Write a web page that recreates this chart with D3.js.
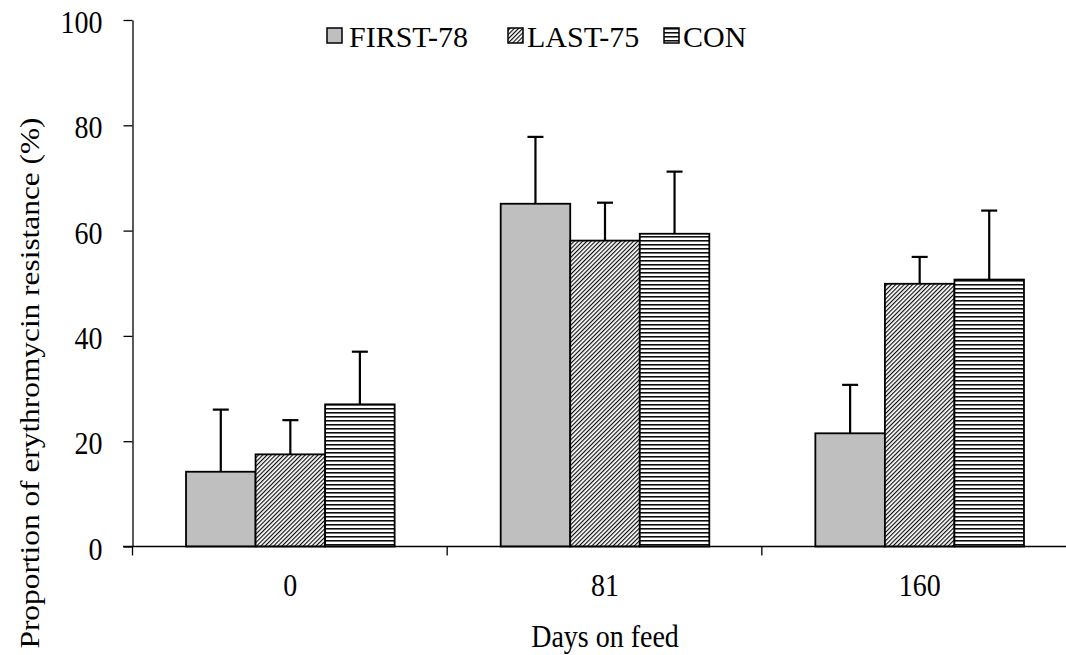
<!DOCTYPE html>
<html>
<head>
<meta charset="utf-8">
<script src="https://cdn.jsdelivr.net/npm/d3@7/dist/d3.min.js"></script>
<style>
  html, body { margin: 0; padding: 0; background: #fff; }
  svg { display: block; }
  svg text { font-family: "Liberation Serif", "Times New Roman", serif; fill: #000; }
</style>
</head>
<body>
<div id="chart"></div>
<script>
// data
const categories = ["0", "81", "160"];
const seriesNames = ["FIRST-78", "LAST-75", "CON"];
const firstMeans = [14.2, 65.1, 21.5];
const lastMeans = [17.5, 58.1, 49.9];
const conMeans = [27.0, 59.4, 50.7];
const firstErr = [11.8, 12.7, 9.2];
const lastErr = [6.5, 7.2, 5.1];
const conErr = [10.0, 11.8, 13.1];
const yTicks = [0, 20, 40, 60, 80, 100];

const width = 1066;
const height = 655;
const margin = { top: 20, left: 133, bottom: 108 };
const plotRight = 1077; // axis runs past the right edge of the picture
const stretch = 1.12;   // text in the picture is a little taller than wide
const serif = "Liberation Serif";

const svg = d3
  .select("#chart")
  .append("svg")
  .attr("width", width)
  .attr("height", height);

// patterns
const defs = svg.append("defs");
const diag = defs
  .append("pattern")
  .attr("id", "diag")
  .attr("patternUnits", "userSpaceOnUse")
  .attr("width", 3)
  .attr("height", 3)
  .attr("patternTransform", "rotate(45)");
diag.append("rect").attr("width", 3).attr("height", 3).attr("fill", "#fff");
diag
  .append("line")
  .attr("x1", 0.6).attr("x2", 0.6)
  .attr("y1", 0).attr("y2", 3)
  .attr("stroke", "#000")
  .attr("stroke-width", 1.1);

const horiz = defs
  .append("pattern")
  .attr("id", "horiz")
  .attr("patternUnits", "userSpaceOnUse")
  .attr("width", 8)
  .attr("height", 4);
horiz.append("rect").attr("width", 8).attr("height", 4).attr("fill", "#fff");
horiz
  .append("line")
  .attr("x1", 0).attr("x2", 8)
  .attr("y1", 0.8).attr("y2", 0.8)
  .attr("stroke", "#000")
  .attr("stroke-width", 1.5);

const fills = ["#bfbfbf", "url(#diag)", "url(#horiz)"];

const y0 = height - margin.bottom;
const y = d3.scaleLinear().domain([0, 100]).range([y0 - 0.5, margin.top]);

// category slots (boundaries) and bar groups inside them
const xSlot = d3
  .scaleBand()
  .domain(categories)
  .range([margin.left, plotRight])
  .padding(0);

const x0 = d3
  .scaleBand()
  .domain(categories)
  .range([margin.left, plotRight])
  .paddingInner(0.337)
  .paddingOuter(0.1685);

const x1 = d3
  .scaleBand()
  .domain(seriesNames)
  .range([0, x0.bandwidth()]);

const rows = [];
categories.forEach((c, i) => {
  rows.push({ cat: c, s: seriesNames[0], v: firstMeans[i], e: firstErr[i], k: 0 });
  rows.push({ cat: c, s: seriesNames[1], v: lastMeans[i], e: lastErr[i], k: 1 });
  rows.push({ cat: c, s: seriesNames[2], v: conMeans[i], e: conErr[i], k: 2 });
});

// bars
svg
  .append("g")
  .selectAll("rect")
  .data(rows)
  .join("rect")
  .attr("x", (d) => x0(d.cat) + x1(d.s))
  .attr("width", x1.bandwidth())
  .attr("y", (d) => y(d.v))
  .attr("height", (d) => y(0) - y(d.v))
  .attr("fill", (d) => fills[d.k])
  .attr("stroke", "#000")
  .attr("stroke-width", 1.8);

// error bars (upper only)
const cx = (d) => x0(d.cat) + x1(d.s) + x1.bandwidth() / 2;
const eb = svg.append("g").attr("stroke", "#000").attr("stroke-width", 2.2);
eb.selectAll("line.v")
  .data(rows)
  .join("line")
  .attr("class", "v")
  .attr("x1", cx)
  .attr("x2", cx)
  .attr("y1", (d) => y(d.v))
  .attr("y2", (d) => y(d.v + d.e));
eb.selectAll("line.cap")
  .data(rows)
  .join("line")
  .attr("class", "cap")
  .attr("x1", (d) => cx(d) - 8)
  .attr("x2", (d) => cx(d) + 8)
  .attr("y1", (d) => y(d.v + d.e))
  .attr("y2", (d) => y(d.v + d.e));

// y axis
const yAxis = svg
  .append("g")
  .attr("transform", `translate(${margin.left - 0.5},0)`)
  .call(d3.axisLeft(y).tickValues(yTicks).tickSize(9).tickSizeOuter(0))
  .attr("font-family", serif);
yAxis.selectAll("path, line").attr("stroke", "#000").attr("stroke-width", 1.3);
yAxis
  .selectAll("text")
  .attr("x", -30)
  .attr("dy", "0.4em")
  .attr("transform", `scale(1,${stretch})`)
  .attr("fill", "#000")
  .attr("font-family", serif)
  .style("font-size", "28px");

// x axis: line, slot boundary ticks, centered labels
const xAxis = svg.append("g").attr("transform", `translate(0,${y(0)})`);
xAxis
  .append("line")
  .attr("x1", margin.left - 10)
  .attr("x2", plotRight)
  .attr("stroke", "#000")
  .attr("stroke-width", 1.3);
xAxis
  .selectAll("line.tick")
  .data(categories)
  .join("line")
  .attr("class", "tick")
  .attr("x1", (d) => xSlot(d) - 0.5)
  .attr("x2", (d) => xSlot(d) - 0.5)
  .attr("y1", 0)
  .attr("y2", 9)
  .attr("stroke", "#000")
  .attr("stroke-width", 1.3);
xAxis
  .selectAll("text")
  .data(categories)
  .join("text")
  .attr("transform", (d) => `translate(${xSlot(d) + xSlot.bandwidth() / 2},0) scale(1,${stretch})`)
  .attr("y", 44.4)
  .attr("text-anchor", "middle")
  .attr("font-family", serif)
  .style("font-size", "28px")
  .text((d) => d);

// axis titles
svg
  .append("text")
  .attr("transform", `translate(${(margin.left + plotRight) / 2},646.5) scale(1,${stretch})`)
  .attr("text-anchor", "middle")
  .attr("font-family", serif)
  .style("font-size", "28px")
  .text("Days on feed");

svg
  .append("text")
  .attr("transform", `translate(39,383) scale(1,${stretch}) rotate(-90)`)
  .attr("text-anchor", "middle")
  .attr("font-family", serif)
  .style("font-size", "28px")
  .text("Proportion of erythromycin resistance (%)");

// legend
const legendX = [327, 508, 664];
const legend = svg
  .append("g")
  .selectAll("g")
  .data(seriesNames)
  .join("g")
  .attr("transform", (d, i) => `translate(${legendX[i]},0)`);
legend
  .append("rect")
  .attr("x", 0)
  .attr("y", 28)
  .attr("width", 15)
  .attr("height", 15)
  .attr("fill", (d, i) => fills[i])
  .attr("stroke", "#000")
  .attr("stroke-width", 1.5);
legend
  .append("text")
  .attr("x", (d, i) => (i === 0 ? 22 : 19))
  .attr("y", 46.5)
  .attr("font-family", serif)
  .style("font-size", "30px")
  .text((d) => d);
</script>
</body>
</html>
